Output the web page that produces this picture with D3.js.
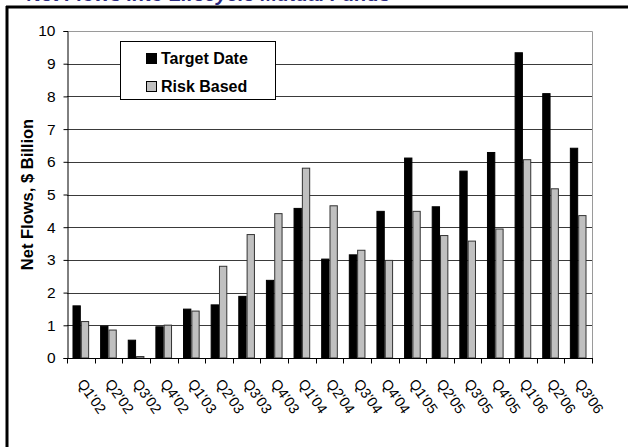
<!DOCTYPE html>
<html>
<head>
<meta charset="utf-8">
<script src="https://cdn.jsdelivr.net/npm/d3@7"></script>
<style>
  html, body { margin: 0; padding: 0; background: #fff; }
  svg { display: block; }
  text { font-family: Arial, "Liberation Sans", sans-serif; }
</style>
</head>
<body>
<script>
const quarters = ["Q1'02","Q2'02","Q3'02","Q4'02","Q1'03","Q2'03","Q3'03","Q4'03","Q1'04","Q2'04","Q3'04","Q4'04","Q1'05","Q2'05","Q3'05","Q4'05","Q1'06","Q2'06","Q3'06"];
const targetDate = [1.61,0.99,0.56,0.97,1.51,1.64,1.90,2.39,4.59,3.04,3.17,4.50,6.13,4.64,5.73,6.30,9.35,8.10,6.43];
const riskBased  = [1.13,0.87,0.06,1.02,1.45,2.82,3.79,4.43,5.82,4.67,3.31,3.00,4.50,3.76,3.59,3.96,6.08,5.19,4.37];
const seriesNames = ["Target Date","Risk Based"];
const seriesColors = ["#000000","#c0c0c0"];
const yTicks = [0,1,2,3,4,5,6,7,8,9,10];
const titleText = "Net Flows into Lifecycle Mutual Funds";
const yLabel = "Net Flows, $ Billion";

const W = 628, H = 447;
const svg = d3.select("body").append("svg").attr("width", W).attr("height", H);

// title (cut off above the frame, as in the source image)
svg.append("text").attr("x", 27).attr("y", 0.6)
  .attr("font-size", 20).attr("font-weight", "bold").attr("font-style", "italic")
  .attr("fill", "#2a2a80").text(titleText);

// outer frame (top + left)
svg.append("line").attr("x1", 6).attr("x2", W).attr("y1", 7).attr("y2", 7).attr("stroke", "#000").attr("stroke-width", 3);
svg.append("line").attr("x1", 7).attr("x2", 7).attr("y1", 6).attr("y2", H).attr("stroke", "#000").attr("stroke-width", 3);

const pL = 67, pR = 592, pT = 31, pB = 358;
const x = d3.scaleBand().domain(quarters).range([pL, pR]);
const xs = d3.scaleBand().domain(seriesNames).range([0, x.bandwidth()]).paddingOuter(0.66).paddingInner(0);
const y = d3.scaleLinear().domain([0, 10]).range([pB, pT]);

// gridlines
svg.append("g").selectAll("line").data(yTicks.filter(t => t > 0 && t < 10)).join("line")
  .attr("x1", pL).attr("x2", pR)
  .attr("y1", d => Math.round(y(d)) + 0.5).attr("y2", d => Math.round(y(d)) + 0.5)
  .attr("stroke", "#3a3a3a").attr("stroke-width", 1);

// plot border top/right
svg.append("path")
  .attr("d", `M${pL},${Math.round(y(10)) + 0.5}H${pR + 0.5}V${pB}`)
  .attr("fill", "none").attr("stroke", "#9a9a9a").attr("stroke-width", 1);

// bars
const data = quarters.map((q, i) => ({q, vals: [targetDate[i], riskBased[i]]}));
const g = svg.append("g");
data.forEach(d => {
  d.vals.forEach((v, k) => {
    g.append("rect")
      .attr("x", x(d.q) + xs(seriesNames[k]) + 0.5)
      .attr("y", y(v) + 0.5)
      .attr("width", xs.bandwidth() - 1)
      .attr("height", Math.max(0, y(0) - y(v) - 0.5))
      .attr("fill", seriesColors[k])
      .attr("stroke", k === 0 ? "#000" : "#333")
      .attr("stroke-width", 1);
  });
});

// y axis
const yAxis = d3.axisLeft(y).tickValues(yTicks).tickSize(4).tickPadding(8).tickFormat(d3.format("d"));
const ya = svg.append("g").attr("transform", `translate(${pL + 0.5},0)`).call(yAxis);
ya.select(".domain").attr("stroke", "#000");
ya.selectAll(".tick line").attr("stroke", "#000");
ya.selectAll(".tick text").attr("font-size", 15.5).attr("fill", "#000")
  .attr("font-family", "Arial, 'Liberation Sans', sans-serif");

// x axis
const xa = svg.append("g").attr("transform", `translate(0,${pB + 0.5})`);
xa.append("line").attr("x1", pL).attr("x2", pR + 1).attr("stroke", "#000");
xa.selectAll("line.tk").data(quarters.concat(["end"])).join("line").attr("class", "tk")
  .attr("x1", (d, i) => Math.round(pL + i * x.step()) + 0.5)
  .attr("x2", (d, i) => Math.round(pL + i * x.step()) + 0.5)
  .attr("y1", 0).attr("y2", 5).attr("stroke", "#000");
xa.selectAll("text.xl").data(quarters).join("text").attr("class", "xl")
  .attr("transform", d => `translate(${x(d) + x.bandwidth() / 2 - 4},${25}) rotate(55)`)
  .attr("font-size", 14.5).attr("fill", "#000").text(d => d);

// y label
svg.append("text")
  .attr("transform", `translate(${33},${(pT + pB) / 2}) rotate(-90)`)
  .attr("text-anchor", "middle").attr("font-size", 16.5).attr("font-weight", "bold")
  .text(yLabel);

// legend
const lg = svg.append("g");
lg.append("rect").attr("x", 120.5).attr("y", 41.5).attr("width", 155).attr("height", 58)
  .attr("fill", "#fff").attr("stroke", "#000");
seriesNames.forEach((s, k) => {
  const yy = 53 + k * 28;
  lg.append("rect").attr("x", 146.5).attr("y", yy + 0.5).attr("width", 10).attr("height", 10)
    .attr("fill", seriesColors[k]).attr("stroke", "#000");
  lg.append("text").attr("x", 161).attr("y", yy + 10.5).attr("font-size", 16)
    .attr("font-weight", "bold").text(s);
});
</script>
</body>
</html>
